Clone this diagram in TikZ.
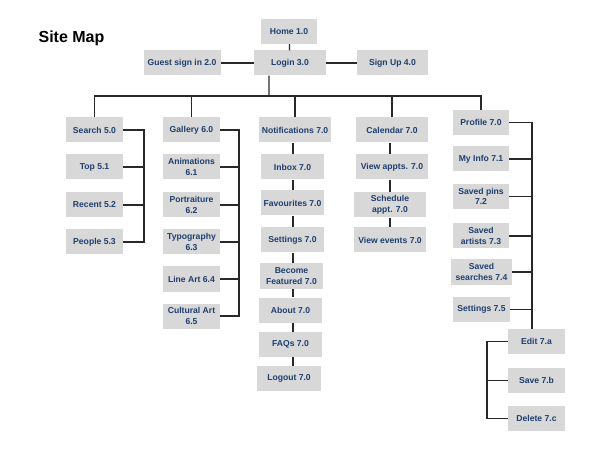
\documentclass[tikz,border=0pt]{standalone}
\usepackage{fontspec}
\setmainfont{Liberation Sans}
\usetikzlibrary{positioning}
\definecolor{boxgray}{RGB}{216,216,216}
\definecolor{labelblue}{RGB}{30,62,110}
\definecolor{wiregray}{RGB}{40,40,40}
\tikzset{pagebox/.style={fill=boxgray, text=labelblue, inner sep=0pt, minimum height=25bp, align=center,
    font=\fontsize{8.6bp}{10.5bp}\selectfont\bfseries}}
\tikzset{wire/.style={draw=wiregray, line width=1.3bp}}

\begin{document}
\begin{tikzpicture}[x=1bp, y=-1bp]
    \useasboundingbox (0,0) rectangle (600,450);
    \node[font=\fontsize{16bp}{18bp}\selectfont\bfseries] (title) at (71.5,38) {Site Map};
    % entry pages
    \node[pagebox, minimum width=56bp] (home) at (289,31.5) {Home 1.0};
    \node[pagebox, minimum width=72bp] (login) at (290,63) {Login 3.0};
    \node[pagebox, minimum width=77bp] (guest) at (182,63) {Guest sign in 2.0};
    \node[pagebox, minimum width=71bp] (signup) at (392.5,63) {Sign Up 4.0};
    % search
    \node[pagebox, minimum width=57bp] (search) at (94.5,130) {Search 5.0};
    \node[pagebox, minimum width=57bp] (top) at (94.5,167) {Top 5.1};
    \node[pagebox, minimum width=57bp] (recent) at (94.5,205) {Recent 5.2};
    \node[pagebox, minimum width=57bp] (people) at (94.5,242) {People 5.3};
    % gallery
    \node[pagebox, minimum width=57bp] (gallery) at (191.5,130) {Gallery 6.0};
    \node[pagebox, minimum width=57bp] (anim) at (191.5,167) {Animations\\6.1};
    \node[pagebox, minimum width=57bp] (portrait) at (191.5,205) {Portraiture\\6.2};
    \node[pagebox, minimum width=57bp] (typo) at (191.5,242) {Typography\\6.3};
    \node[pagebox, minimum width=57bp] (lineart) at (191.5,279) {Line Art 6.4};
    \node[pagebox, minimum width=57bp] (cultural) at (191.5,316) {Cultural Art\\6.5};
    % notifications
    \node[pagebox, minimum width=72bp] (notif) at (295,130) {Notifications 7.0};
    \node[pagebox, minimum width=63bp] (inbox) at (292.5,167) {Inbox 7.0};
    \node[pagebox, minimum width=63bp] (fav) at (292.5,203) {Favourites 7.0};
    \node[pagebox, minimum width=63bp] (settings) at (292.5,240) {Settings 7.0};
    \node[pagebox, minimum width=63bp] (become) at (291.5,276) {Become\\Featured 7.0};
    \node[pagebox, minimum width=63bp] (about) at (290.5,310) {About 7.0};
    \node[pagebox, minimum width=63bp] (faqs) at (290.5,344.5) {FAQs 7.0};
    \node[pagebox, minimum width=64bp] (logout) at (289,378.5) {Logout 7.0};
    % calendar
    \node[pagebox, minimum width=72bp] (cal) at (392,130) {Calendar 7.0};
    \node[pagebox, minimum width=72bp] (appts) at (392,167) {View appts. 7.0};
    \node[pagebox, minimum width=72bp] (sched) at (390,205) {Schedule\\appt. 7.0};
    \node[pagebox, minimum width=72bp] (events) at (390,240) {View events 7.0};
    % profile
    \node[pagebox, minimum width=56bp] (profile) at (481,122.5) {Profile 7.0};
    \node[pagebox, minimum width=56bp] (myinfo) at (481,159) {My Info 7.1};
    \node[pagebox, minimum width=56bp] (pins) at (481,196.5) {Saved pins\\7.2};
    \node[pagebox, minimum width=56bp] (artists) at (481,236) {Saved\\artists 7.3};
    \node[pagebox, minimum width=61bp] (searches) at (481.5,272) {Saved\\searches 7.4};
    \node[pagebox, minimum width=57bp] (set75) at (481.5,309.5) {Settings 7.5};
    \node[pagebox, minimum width=57bp] (edit) at (536.5,341.5) {Edit 7.a};
    \node[pagebox, minimum width=57bp] (save) at (536.5,380.5) {Save 7.b};
    \node[pagebox, minimum width=57bp] (delete) at (536.5,418.5) {Delete 7.c};

    \coordinate (bus) at (269,96);
    \coordinate (b1) at (144,0);
    \coordinate (b2) at (239,0);
    \coordinate (c3) at (293,0);
    \coordinate (c4) at (390,0);
    \coordinate (b5) at (532,0);
    \coordinate (b6) at (487,0);

    \draw[wire] (home) -- (login);
    \draw[wire] (guest) -- (login);
    \draw[wire] (login) -- (signup);
    \draw[wire] ([xshift=-21bp]login.south) -- (bus);
    \draw[wire] (search.north) |- (bus) -| (profile.north);
    \foreach \n in {gallery, notif, cal} {
        \draw[wire] (\n.north) -- (\n.north |- bus);
    }
    % brackets
    \draw[wire] (search.east) -| (b1 |- people.east) -- (people.east);
    \foreach \n in {top, recent} {
        \draw[wire] (\n.east) -- (\n.east -| b1);
    }
    \draw[wire] (gallery.east) -| (b2 |- cultural.east) -- (cultural.east);
    \foreach \n in {anim, portrait, typo, lineart} {
        \draw[wire] (\n.east) -- (\n.east -| b2);
    }
    \draw[wire] (profile.east) -| (b5 |- edit.north);
    \foreach \n in {myinfo, pins, artists, searches, set75} {
        \draw[wire] (\n.east) -- (\n.east -| b5);
    }
    \draw[wire] (edit.west) -| (b6 |- delete.west) -- (delete.west);
    \draw[wire] (save.west) -- (save.west -| b6);
    % chains
    \foreach \a/\b in {notif/inbox, inbox/fav, fav/settings, settings/become, become/about, about/faqs, faqs/logout} {
        \draw[wire] (\a.south -| c3) -- (\b.north -| c3);
    }
    \foreach \a/\b in {cal/appts, appts/sched, sched/events} {
        \draw[wire] (\a.south -| c4) -- (\b.north -| c4);
    }
\end{tikzpicture}
\end{document}
